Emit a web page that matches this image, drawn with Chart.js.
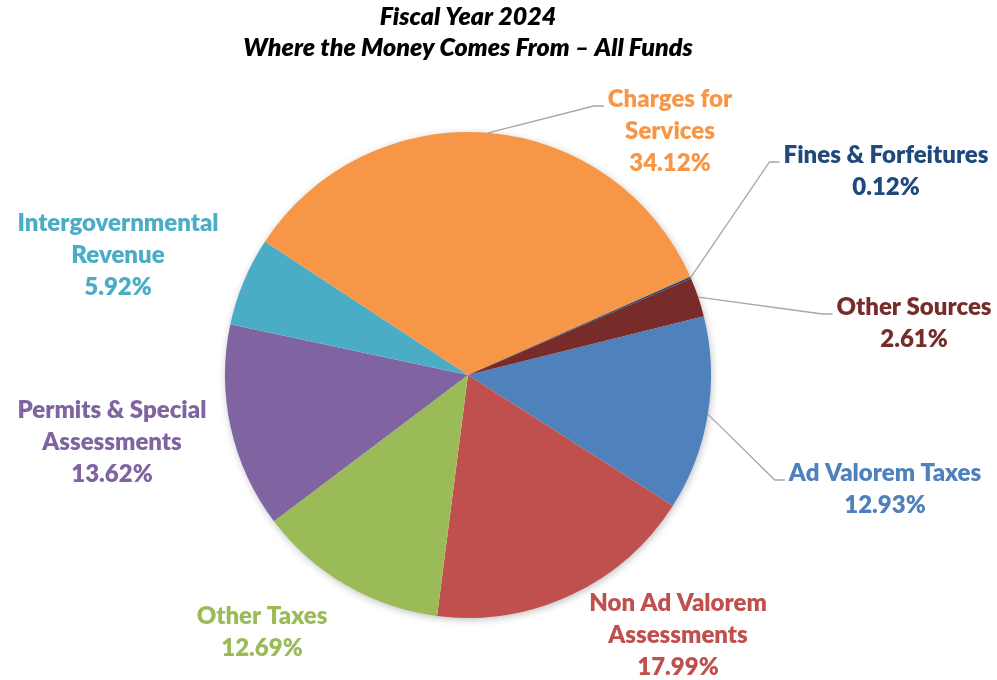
<!DOCTYPE html>
<html>
<head>
<meta charset="utf-8">
<script src="https://cdn.jsdelivr.net/npm/chart.js@4"></script>
<style>
  html, body { margin: 0; padding: 0; background: #fff; }
</style>
</head>
<body>
<canvas id="revenuePie" width="997" height="680"></canvas>
<script>
// FY2024 revenue shares, clockwise from the Ad Valorem slice
const categories = ['Ad Valorem Taxes', 'Non Ad Valorem Assessments', 'Other Taxes', 'Permits & Special Assessments',
                    'Intergovernmental Revenue', 'Charges for Services', 'Fines & Forfeitures', 'Other Sources'];
const shares = [12.93, 17.99, 12.69, 13.62, 5.92, 34.12, 0.12, 2.61];
const wrapped = [['Ad Valorem Taxes'], ['Non Ad Valorem', 'Assessments'], ['Other Taxes'], ['Permits & Special', 'Assessments'],
                 ['Intergovernmental', 'Revenue'], ['Charges for', 'Services'], ['Fines & Forfeitures'], ['Other Sources']];
const titleLines = ['Fiscal Year 2024', 'Where the Money Comes From \u2013 All Funds'];

const sliceColors = ['#4f81bd', '#c0504d', '#9bbb59', '#8064a2', '#4bacc6', '#f79646', '#1f497d', '#772c2a'];
const textColors  = ['#4f81bd', '#c0504d', '#9bbb59', '#8064a2', '#4bacc6', '#f79646', '#1f497d', '#772c2a'];

// where each label block sits (centre x, first line y) and whether it gets a leader line
const labelSpots = [[885, 473], [678, 603], [262, 616], [112, 410], [118, 223], [670, 99], [886, 155], [914, 307]];
const hasLeader = [true, false, false, false, false, true, true, true];
const lineGap = 32;
const labelFont = '800 24px Lato, "Open Sans", sans-serif';

const pieShadow = {
  id: 'pieShadow',
  beforeDatasetsDraw(chart) {
    const arc = chart.getDatasetMeta(0).data[0];
    const ctx = chart.ctx;
    ctx.save();
    ctx.shadowColor = 'rgba(0, 0, 0, 0.3)';
    ctx.shadowBlur = 8;
    ctx.shadowOffsetX = 1;
    ctx.shadowOffsetY = 2;
    ctx.fillStyle = '#fff';
    ctx.beginPath();
    ctx.arc(arc.x, arc.y, arc.outerRadius - 1, 0, Math.PI * 2);
    ctx.fill();
    ctx.restore();
  }
};

const calloutLabels = {
  id: 'calloutLabels',
  afterDatasetsDraw(chart) {
    const ctx = chart.ctx;
    const arcs = chart.getDatasetMeta(0).data;
    ctx.save();
    ctx.font = labelFont;
    ctx.textAlign = 'center';
    ctx.textBaseline = 'middle';
    arcs.forEach((arc, i) => {
      const lines = [...wrapped[i], shares[i].toFixed(2) + '%'];
      const [cx, cy] = labelSpots[i];
      if (hasLeader[i]) {
        const mid = (arc.startAngle + arc.endAngle) / 2;
        const sx = arc.x + Math.cos(mid) * arc.outerRadius;
        const sy = arc.y + Math.sin(mid) * arc.outerRadius;
        const left = cx - ctx.measureText(lines[0]).width / 2 - 4;
        const ly = cy + 7;
        ctx.strokeStyle = '#a6a6a6';
        ctx.lineWidth = 1.3;
        ctx.beginPath();
        ctx.moveTo(sx, sy);
        ctx.lineTo(left - 10, ly);
        ctx.lineTo(left, ly);
        ctx.stroke();
      }
      ctx.fillStyle = textColors[i];
      lines.forEach((t, k) => ctx.fillText(t, cx, cy + k * lineGap));
    });

    // chart title
    ctx.fillStyle = '#000';
    ctx.font = 'italic 800 25px Lato, "Open Sans", sans-serif';
    ctx.fillText(titleLines[0], 468, 17);
    ctx.fillText(titleLines[1], 468, 48);
    ctx.restore();
  }
};

new Chart(document.getElementById('revenuePie'), {
  type: 'pie',
  data: {
    labels: categories,
    datasets: [{
      data: shares,
      backgroundColor: sliceColors,
      borderWidth: 0,
      hoverOffset: 0,
      offset: 0
    }]
  },
  options: {
    responsive: false,
    animation: false,
    rotation: 76,
    layout: { padding: { top: 132, bottom: 62, left: 225, right: 286 } },
    plugins: {
      legend: { display: false },
      tooltip: { enabled: false }
    }
  },
  plugins: [pieShadow, calloutLabels]
});
</script>
</body>
</html>
